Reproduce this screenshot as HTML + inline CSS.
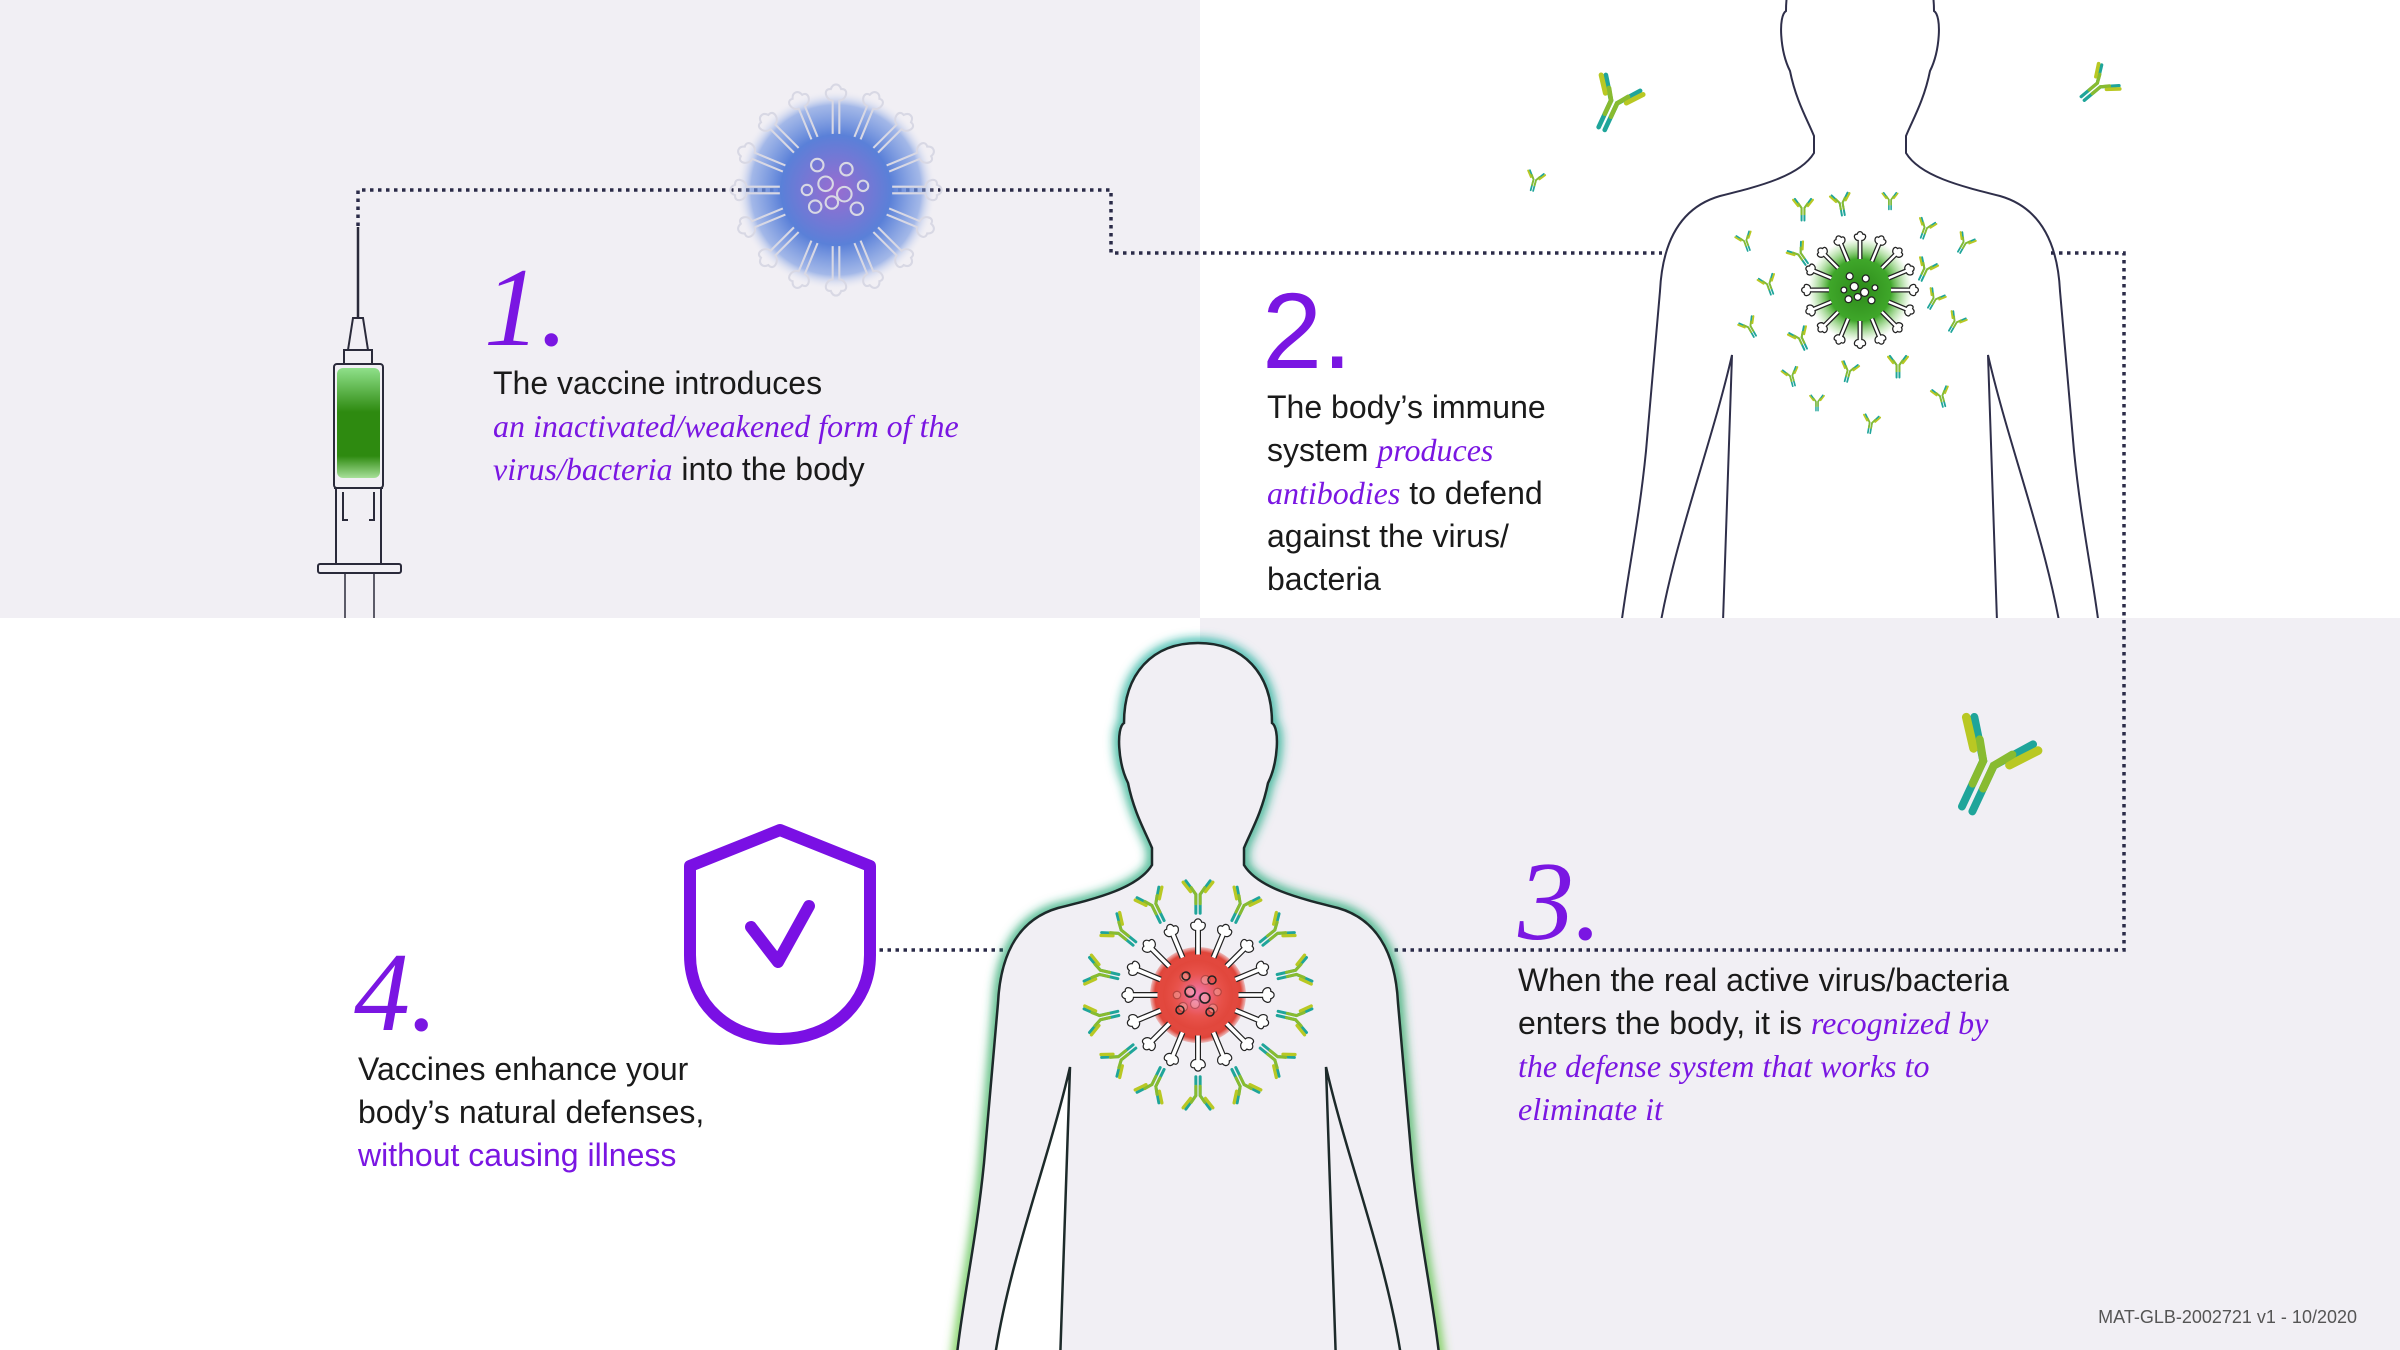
<!DOCTYPE html>
<html><head><meta charset="utf-8"><style>
html,body{margin:0;padding:0;}
body{width:2400px;height:1350px;position:relative;overflow:hidden;background:#fff;font-family:"Liberation Sans",sans-serif;}
.t{position:absolute;font-size:32px;line-height:43px;color:#1a1a1a;white-space:nowrap;}
.p{color:#7a16e2;font-family:"Liberation Serif",serif;font-style:italic;}
.n{position:absolute;color:#7a16e2;font-family:"Liberation Serif",serif;font-style:italic;font-size:112px;line-height:112px;}
</style></head><body>
<svg width="2400" height="1350" style="position:absolute;left:0;top:0">
<defs>
<radialGradient id="gb"><stop offset="0" stop-color="#9a6cd0"/><stop offset="0.55" stop-color="#5a80d8"/><stop offset="0.85" stop-color="#6f93e0" stop-opacity="0.6"/><stop offset="1" stop-color="#f1eff4" stop-opacity="0"/></radialGradient>
<radialGradient id="gg"><stop offset="0" stop-color="#2d8a1a"/><stop offset="0.6" stop-color="#3fa72a"/><stop offset="1" stop-color="#7fd060" stop-opacity="0"/></radialGradient>
<radialGradient id="gr"><stop offset="0" stop-color="#f07ab0"/><stop offset="0.55" stop-color="#e8524a"/><stop offset="0.9" stop-color="#e0453a"/><stop offset="1" stop-color="#e0453a" stop-opacity="0.3"/></radialGradient>
<linearGradient id="sg" x1="0" y1="0" x2="0" y2="1"><stop offset="0" stop-color="#8fe08a"/><stop offset="0.4" stop-color="#2e8a10"/><stop offset="0.8" stop-color="#2e8a10"/><stop offset="1" stop-color="#a7e09a"/></linearGradient>
<linearGradient id="glow" x1="0" y1="0" x2="0" y2="1"><stop offset="0" stop-color="#1fb0a0"/><stop offset="0.5" stop-color="#2aa86a"/><stop offset="1" stop-color="#6ccc40"/></linearGradient>
<filter id="bl" x="-20%" y="-20%" width="140%" height="140%"><feGaussianBlur stdDeviation="5"/></filter>
<clipPath id="topc"><rect x="0" y="0" width="2400" height="618"/></clipPath>
<g id="sp"><path d="M-1.6,-27 V-43 C-5,-43 -6.5,-49 -2.5,-48.5 C-1.5,-51.5 1.5,-51.5 2.5,-48.5 C6.5,-49 5,-43 1.6,-43 V-27"/></g>
<g id="spikes">
<use href="#sp"/><use href="#sp" transform="rotate(22.5)"/><use href="#sp" transform="rotate(45)"/><use href="#sp" transform="rotate(67.5)"/><use href="#sp" transform="rotate(90)"/><use href="#sp" transform="rotate(112.5)"/><use href="#sp" transform="rotate(135)"/><use href="#sp" transform="rotate(157.5)"/><use href="#sp" transform="rotate(180)"/><use href="#sp" transform="rotate(202.5)"/><use href="#sp" transform="rotate(225)"/><use href="#sp" transform="rotate(247.5)"/><use href="#sp" transform="rotate(270)"/><use href="#sp" transform="rotate(292.5)"/><use href="#sp" transform="rotate(315)"/><use href="#sp" transform="rotate(337.5)"/>
<circle cx="-5" cy="-3" r="3.5"/><circle cx="4" cy="2" r="3.5"/><circle cx="-2" cy="6" r="3"/><circle cx="5" cy="-10" r="3"/><circle cx="-10" cy="8" r="3"/><circle cx="10" cy="9" r="3"/><circle cx="-9" cy="-12" r="3"/><circle cx="13" cy="-2" r="2.5"/><circle cx="-14" cy="0" r="2.5"/>
</g>
<g id="ab" fill="none" stroke-linecap="round">
<path d="M-1.6,15 V1 L-9,-9 M1.6,15 V1 L9,-9" stroke="#1fa59a" stroke-width="2.2"/>
<path d="M-5.5,-1 L-11,-8 M5.5,-1 L11,-8" stroke="#b9c823" stroke-width="2.4"/>
<path d="M-1.6,8 V1 L-5,-4 M1.6,8 V1 L5,-4" stroke="#88bb30" stroke-width="2.2"/>
</g>
<path id="body" d="M0,0 C45,0 74,30 74,80 C82,85 80,120 70,140 C64,170 52,190 46,205 L46,222 C60,245 100,255 140,265 C185,278 198,320 200,360 L214,520 C222,600 236,660 242,720 L204,720 C190,620 150,520 128,424 L138,720 L-138,720 L-128,424 C-150,520 -190,620 -204,720 L-242,720 C-236,660 -222,600 -214,520 L-200,360 C-198,320 -185,278 -140,265 C-100,255 -60,245 -46,222 L-46,205 C-52,190 -64,170 -70,140 C-80,120 -82,85 -74,80 C-74,30 -45,0 0,0 Z"/>
<path id="outer" d="M242,720 C236,660 222,600 214,520 L200,360 C198,320 185,278 140,265 C100,255 60,245 46,222 L46,205 C52,190 64,170 70,140 C80,120 82,85 74,80 C74,30 45,0 0,0 C-45,0 -74,30 -74,80 C-82,85 -80,120 -70,140 C-64,170 -52,190 -46,205 L-46,222 C-60,245 -100,255 -140,265 C-185,278 -198,320 -200,360 L-214,520 C-222,600 -236,660 -242,720"/>
</defs>

<rect x="0" y="0" width="1200" height="618" fill="#f1eff4"/>
<rect x="1200" y="618" width="1200" height="732" fill="#f1eff4"/>

<g fill="none" stroke="#2b2b48" stroke-width="3.5" stroke-dasharray="3.5 4.5">
<path d="M358,226 V190 H1111 V253 H1662"/>
<path d="M2051,253 H2124 V950 H1393"/>
<path d="M1003,950 H872"/>
</g>

<g fill="none" stroke="#2a2a3a" stroke-width="2">
<line x1="358" y1="227" x2="358" y2="318" stroke-width="2.5"/>
<path d="M353,318 H363 L368,350 H348 Z" fill="#f1eff4"/>
<rect x="344" y="350" width="28" height="14" fill="#f1eff4"/>
<rect x="334" y="364" width="49" height="124" rx="3" fill="#f1eff4"/>
<rect x="337" y="368" width="43" height="110" rx="6" fill="url(#sg)" stroke="none"/>
<line x1="334" y1="488" x2="383" y2="488"/>
<path d="M336,488 V566 M381,488 V566 M343,492 V520 H348 M374,492 V520 H369"/>
<rect x="318" y="564" width="83" height="9" rx="2" fill="#f1eff4"/>
<path d="M345,573 V618 M374,573 V618" stroke-width="1.5"/>
</g>

<circle cx="836" cy="190" r="100" fill="url(#gb)"/>
<g transform="translate(836,190) scale(2.08)" fill="none" stroke="#d8d8e4" stroke-width="1"><use href="#spikes"/></g>

<g clip-path="url(#topc)"><use href="#body" transform="translate(1860,-69)" fill="none" stroke="#2f2f4a" stroke-width="2"/></g>
<circle cx="1860" cy="290" r="52" fill="url(#gg)"/>
<g transform="translate(1860,290) scale(1.15)" fill="#fff" stroke="#222" stroke-width="1.1"><use href="#spikes"/></g>
<g>
<use href="#ab" transform="translate(1803,207) scale(0.9)"/><use href="#ab" transform="translate(1841,202) rotate(-10) scale(0.9)"/><use href="#ab" transform="translate(1890,199) scale(0.7)"/><use href="#ab" transform="translate(1926,227) rotate(20) scale(0.8)"/><use href="#ab" transform="translate(1965,242) rotate(30) scale(0.8)"/><use href="#ab" transform="translate(1745,240) rotate(-20) scale(0.75)"/><use href="#ab" transform="translate(1799,253) rotate(-35) scale(0.9)"/><use href="#ab" transform="translate(1768,283) rotate(-20) scale(0.8)"/><use href="#ab" transform="translate(1926,268) rotate(25) scale(0.9)"/><use href="#ab" transform="translate(1935,298) rotate(30) scale(0.8)"/><use href="#ab" transform="translate(1749,326) rotate(-30) scale(0.8)"/><use href="#ab" transform="translate(1800,337) rotate(-25) scale(0.9)"/><use href="#ab" transform="translate(1956,321) rotate(30) scale(0.8)"/><use href="#ab" transform="translate(1791,375) rotate(-15) scale(0.75)"/><use href="#ab" transform="translate(1849,370) rotate(15) scale(0.8)"/><use href="#ab" transform="translate(1898,364) scale(0.9)"/><use href="#ab" transform="translate(1817,401) scale(0.65)"/><use href="#ab" transform="translate(1941,395) rotate(-15) scale(0.8)"/><use href="#ab" transform="translate(1871,422) rotate(10) scale(0.75)"/>
<use href="#ab" transform="translate(1615,100) rotate(25) scale(2.1)"/>
<use href="#ab" transform="translate(2100,84) rotate(50) scale(1.5)"/>
<use href="#ab" transform="translate(1535,179) rotate(15) scale(0.8)"/>
<use href="#ab" transform="translate(1990,760) rotate(25) scale(3.6)"/>
</g>

<use href="#outer" transform="translate(1198,643)" fill="none" stroke="url(#glow)" stroke-width="9" filter="url(#bl)"/>
<use href="#body" transform="translate(1198,643)" fill="#f1eff4" stroke="#1d2a2a" stroke-width="2.5"/>
<circle cx="1198" cy="995" r="48" fill="url(#gr)"/>
<g transform="translate(1198,995) scale(1.5)" fill="#fff" stroke="#222" stroke-width="0.8"><use href="#spikes" /></g>
<circle cx="1198" cy="995" r="38" fill="url(#gr)" opacity="0.75"/>
<g fill="none" stroke="#222" stroke-width="1.5"><circle cx="1190" cy="992" r="5"/><circle cx="1205" cy="998" r="5"/><circle cx="1180" cy="1010" r="4"/><circle cx="1212" cy="980" r="4"/><circle cx="1186" cy="976" r="4"/><circle cx="1210" cy="1012" r="4"/></g>
<g>
<use href="#ab" transform="translate(1198,995) rotate(0) translate(0,-102) scale(1.35)"/>
<use href="#ab" transform="translate(1198,995) rotate(26) translate(0,-102) scale(1.35)"/>
<use href="#ab" transform="translate(1198,995) rotate(51) translate(0,-102) scale(1.35)"/>
<use href="#ab" transform="translate(1198,995) rotate(77) translate(0,-102) scale(1.35)"/>
<use href="#ab" transform="translate(1198,995) rotate(103) translate(0,-102) scale(1.35)"/>
<use href="#ab" transform="translate(1198,995) rotate(129) translate(0,-102) scale(1.35)"/>
<use href="#ab" transform="translate(1198,995) rotate(154) translate(0,-102) scale(1.35)"/>
<use href="#ab" transform="translate(1198,995) rotate(180) translate(0,-102) scale(1.35)"/>
<use href="#ab" transform="translate(1198,995) rotate(206) translate(0,-102) scale(1.35)"/>
<use href="#ab" transform="translate(1198,995) rotate(231) translate(0,-102) scale(1.35)"/>
<use href="#ab" transform="translate(1198,995) rotate(257) translate(0,-102) scale(1.35)"/>
<use href="#ab" transform="translate(1198,995) rotate(283) translate(0,-102) scale(1.35)"/>
<use href="#ab" transform="translate(1198,995) rotate(309) translate(0,-102) scale(1.35)"/>
<use href="#ab" transform="translate(1198,995) rotate(334) translate(0,-102) scale(1.35)"/>
</g>

<path d="M780,830 L690,866 L690,955 C690,1005 730,1039 780,1039 C830,1039 870,1005 870,955 L870,866 Z" fill="none" stroke="#7a10e4" stroke-width="12" stroke-linejoin="round"/>
<path d="M751,927 L778,962 L809,906" fill="none" stroke="#7a10e4" stroke-width="12" stroke-linecap="round" stroke-linejoin="round"/>

<text x="2357" y="1323" text-anchor="end" font-family="Liberation Sans, sans-serif" font-size="18" fill="#555">MAT-GLB-2002721 v1 - 10/2020</text>
</svg>

<div class="n" style="left:484px;top:252px;">1.</div>
<div class="t" style="left:493px;top:362px;">The vaccine introduces<br><span class="p">an inactivated/weakened form of the</span><br><span class="p">virus/bacteria</span> into the body</div>

<div class="n" style="left:1262px;top:275px;font-family:'Liberation Sans',sans-serif;font-style:normal;font-size:108px;">2.</div>
<div class="t" style="left:1267px;top:386px;">The body’s immune<br>system <span class="p">produces</span><br><span class="p">antibodies</span> to defend<br>against the virus/<br>bacteria</div>

<div class="n" style="left:1518px;top:846px;">3.</div>
<div class="t" style="left:1518px;top:959px;">When the real active virus/bacteria<br>enters the body, it is <span class="p">recognized by</span><br><span class="p">the defense system that works to</span><br><span class="p">eliminate it</span></div>

<div class="n" style="left:354px;top:937px;">4.</div>
<div class="t" style="left:358px;top:1048px;">Vaccines enhance your<br>body’s natural defenses,<br><span style="color:#7a16e2">without causing illness</span></div>
</body></html>
